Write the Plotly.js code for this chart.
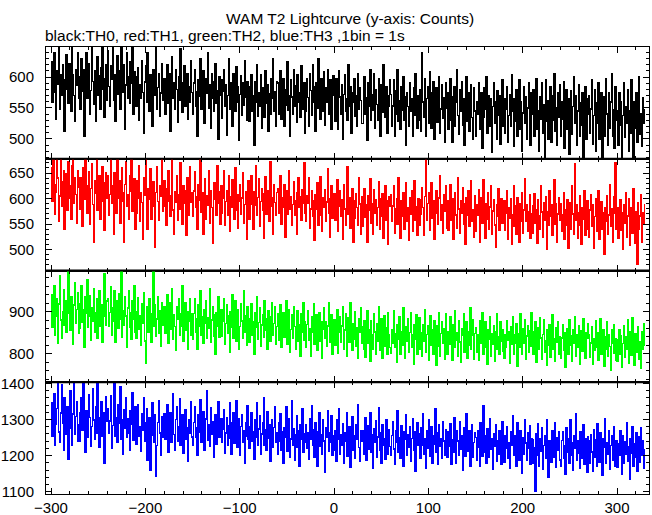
<!DOCTYPE html>
<html>
<head>
<meta charset="utf-8">
<script src="https://cdn.plot.ly/plotly-3.0.1.min.js"></script>
<style>html,body{margin:0;padding:0;background:#fff;}#chart{width:652px;height:515px;}.js-line{shape-rendering:crispEdges;}</style>
</head>
<body>
<div id="chart"></div>
<script>
// Bin start time (s) and bin width (s): 1bin = 1s
const binStart = -300;
const binWidth = 1;

// TH0 counts (black)
const th0 = [
625,560,598,640,575,532,610,588,655,548,603,571,620,595,512,580,636,600,557,622,590,545,668,603,570,528,612,586,640,565,
600,548,630,577,612,505,595,640,566,588,622,540,578,650,593,556,610,529,587,633,571,602,548,615,660,580,535,597,620,563,
642,585,553,618,596,670,562,603,528,590,635,572,610,548,655,598,575,620,515,587,640,566,600,557,625,590,663,540,608,577,
552,600,615,530,588,566,627,575,509,592,618,560,640,578,545,603,585,520,611,570,596,652,548,583,605,537,574,622,563,590,
598,540,582,620,557,605,512,574,633,566,590,548,612,580,527,601,563,645,575,543,590,618,552,571,606,532,584,560,627,575,
540,590,612,553,577,505,596,569,630,548,583,610,526,566,598,574,640,550,587,518,606,565,545,592,622,557,578,500,601,571,
595,534,577,612,552,588,506,570,630,548,591,563,520,606,575,545,617,560,585,498,572,602,538,590,555,626,567,530,593,578,
528,585,603,545,570,490,592,560,620,537,575,553,604,518,583,567,535,610,557,588,512,573,540,598,565,630,545,576,520,592,
590,540,575,610,532,563,598,520,580,555,625,547,570,505,595,568,540,612,553,586,527,603,560,575,535,618,571,548,590,510,
545,598,567,520,606,578,538,620,560,585,512,590,550,630,566,532,597,574,545,608,522,583,560,612,540,575,596,515,570,602,
580,528,597,555,515,610,568,540,588,500,572,604,545,565,530,620,553,585,510,575,560,598,537,570,520,606,548,583,562,525,
525,575,600,540,566,498,590,553,612,530,571,547,605,518,580,556,530,598,565,505,588,543,620,560,535,585,510,570,552,595,
572,520,553,595,505,578,540,612,528,562,515,585,547,600,530,568,490,575,552,520,590,545,565,505,583,538,606,550,518,570,
530,580,512,640,560,535,597,505,565,585,525,608,545,518,575,592,500,555,582,527,570,600,510,548,587,533,566,495,590,550,
575,515,552,598,530,495,568,585,520,560,612,538,508,580,545,593,522,565,490,550,600,528,575,512,557,588,535,500,583,545,
505,560,540,590,515,550,575,485,535,582,548,600,510,545,570,520,565,478,552,590,525,560,500,578,538,570,492,556,595,520,
565,510,548,585,495,538,572,520,603,545,488,565,528,580,505,552,595,515,560,480,542,585,525,568,500,550,590,535,490,575,
540,580,505,556,598,515,545,480,568,532,590,510,555,465,595,528,562,500,548,585,495,570,530,605,512,550,490,575,535,588,
505,560,532,592,485,548,580,515,565,475,540,578,508,552,600,525,570,490,545,588,505,558,522,575,468,535,585,500,565,540,
570,510,548,595,492,538,580,480,558,525,590,500,545,575,462,532,568,505,598,540,490,575,518,560,605,505,547,485,585,530,
545,490,575,522,560,470,538,590,502,552,525,580,480,545,510,595,532,455,560,518,575,495,548,600,508,540,488,566,525,548
];

// TH1 counts (red)
const th1 = [
660,595,690,628,570,612,677,640,555,605,700,585,632,655,540,618,648,578,672,600,625,560,665,690,590,640,608,552,655,622,
580,640,618,545,660,598,690,625,572,600,652,550,620,668,588,515,635,610,685,578,605,645,560,618,662,595,538,630,650,600,
645,568,608,680,590,625,530,650,615,572,695,600,635,552,595,660,612,515,628,672,585,608,560,645,615,678,575,600,638,540,
572,635,600,665,555,612,592,520,640,606,680,580,540,620,598,658,560,603,632,585,505,612,662,594,558,626,604,688,575,610,
635,585,548,620,655,595,565,606,685,578,530,614,592,645,558,608,580,670,600,550,625,590,615,528,640,602,568,662,592,612,
565,615,652,582,603,540,628,596,678,573,612,530,594,638,560,605,586,655,552,616,582,512,608,630,598,568,665,590,614,550,
625,572,600,655,548,594,615,568,645,535,604,583,636,598,560,660,578,608,542,594,628,570,601,650,552,588,614,520,606,635,
560,608,645,588,540,614,586,665,568,602,638,545,594,620,578,522,610,642,570,596,615,555,672,585,602,530,628,592,568,612,
620,572,597,645,550,601,582,628,525,597,615,570,655,580,603,548,588,632,568,596,530,612,640,582,604,558,618,590,670,572,
556,605,590,640,542,580,615,566,596,518,608,580,630,548,590,642,568,535,602,582,618,555,593,658,572,525,600,625,562,587,
610,558,591,636,535,585,615,565,598,520,627,580,548,593,662,570,602,542,587,620,515,596,562,610,582,548,640,589,530,604,
545,596,620,563,588,515,605,578,638,552,590,530,618,572,598,548,582,632,540,600,565,610,522,588,625,558,595,510,604,585,
608,555,585,625,532,580,600,550,640,578,522,596,565,612,540,588,630,555,582,518,602,570,615,536,590,635,558,584,528,600,
548,598,570,622,582,528,604,685,558,590,612,538,581,630,562,595,520,572,615,583,550,601,645,558,588,532,607,576,625,542,
596,538,581,628,558,600,520,586,612,568,542,640,580,532,596,572,622,550,590,510,602,568,615,545,586,635,555,578,525,606,
535,588,568,618,515,580,602,552,636,572,522,590,560,612,540,583,625,530,576,598,548,505,588,566,620,538,584,600,552,578,
596,538,572,615,520,582,562,600,510,568,625,545,585,530,602,570,515,590,555,612,532,578,638,556,588,535,574,608,522,570,
532,585,610,552,578,512,598,566,540,625,574,525,592,558,603,500,575,548,615,566,588,528,572,636,550,590,515,570,602,558,
590,535,568,612,520,578,548,598,502,565,592,540,625,570,530,668,558,588,522,572,605,548,510,582,560,615,528,575,595,540,
525,578,608,545,588,502,565,600,535,578,615,520,560,594,540,572,490,582,555,605,530,568,628,545,580,515,572,603,670,540,
582,522,562,598,538,572,500,588,552,612,525,566,600,508,560,582,532,620,548,512,575,472,592,540,566,608,515,572,550,590
];

// TH2 counts (green)
const th2 = [
940,862,905,960,845,889,930,825,918,985,880,836,900,952,868,925,850,895,995,910,855,935,888,822,915,968,872,905,945,848,
860,918,960,875,905,815,935,895,975,862,890,938,832,908,878,955,852,897,930,838,900,948,865,915,828,890,990,905,868,925,
930,865,898,958,845,910,876,948,828,897,925,860,942,882,995,840,903,868,935,890,815,908,950,862,898,835,925,882,962,852,
838,900,932,858,889,820,918,872,945,830,778,887,912,852,930,878,828,895,995,865,915,842,883,935,848,902,818,920,868,908,
912,848,887,940,825,880,920,858,955,835,892,865,808,912,882,930,845,895,865,960,830,886,922,855,900,810,876,930,845,895,
835,895,930,850,882,812,915,866,948,845,888,825,905,872,925,838,886,860,955,828,880,912,842,892,800,898,866,935,840,885,
905,842,876,930,822,872,915,848,890,805,900,862,940,838,880,925,830,874,905,812,865,918,878,836,948,852,890,820,912,868,
828,882,918,845,876,800,898,862,935,835,874,910,818,868,892,840,925,855,882,810,902,866,830,888,922,845,872,912,822,865,
895,832,866,915,815,862,898,840,876,925,822,868,905,805,858,892,838,912,865,812,878,902,830,870,795,896,852,920,832,875,
815,870,902,832,860,795,888,850,918,822,866,892,808,855,898,830,875,790,858,908,836,876,818,866,922,828,858,892,800,866,
880,820,858,905,802,850,888,828,866,912,812,856,895,795,848,885,828,922,858,808,872,835,900,818,862,790,882,852,910,825,
865,812,878,792,848,902,825,858,782,878,845,810,895,852,800,872,830,912,808,855,882,790,840,890,818,862,798,898,846,815,
802,858,826,902,815,848,780,870,835,888,798,852,820,908,842,790,865,830,882,805,850,898,815,845,775,868,835,892,800,856,
885,812,850,795,870,830,905,803,846,866,785,840,890,820,857,800,878,842,772,866,818,898,795,848,875,826,860,788,895,832,
800,852,822,888,838,785,868,815,902,832,850,795,878,828,780,860,845,895,805,838,875,790,853,820,908,810,843,880,788,848,
862,805,845,785,878,826,850,898,800,842,876,815,775,858,835,888,795,847,822,866,782,852,896,812,840,798,875,830,856,806,
790,845,815,878,832,852,778,863,822,888,800,845,826,872,770,848,815,895,838,800,860,825,880,788,842,866,805,855,818,898,
852,798,835,875,780,828,862,810,886,838,788,846,880,805,832,772,856,820,870,792,844,892,812,835,782,862,828,876,800,840,
790,838,868,808,850,768,828,860,800,880,820,842,782,856,826,888,795,846,815,866,775,835,855,806,884,822,790,850,836,872,
846,792,826,865,775,835,808,878,815,850,785,832,882,800,824,858,770,840,812,875,795,845,818,762,856,826,870,802,835,785,
782,833,858,800,842,768,825,866,792,840,812,880,778,828,852,796,885,818,772,848,805,836,865,788,828,765,852,812,872,818
];

// TH3 counts (blue)
const th3 = [
1345,1255,1300,1372,1228,1288,1330,1402,1265,1238,1318,1395,1290,1215,1360,1298,1258,1335,1190,1295,1380,1276,1230,1315,1402,1260,1308,1350,1240,1285,
1240,1318,1360,1270,1402,1295,1210,1325,1285,1250,1368,1306,1226,1280,1385,1298,1245,1335,1262,1402,1304,1222,1290,1348,1255,1318,1180,1284,1362,1296,
1330,1262,1296,1365,1220,1283,1318,1402,1255,1305,1236,1342,1289,1390,1246,1298,1205,1328,1275,1360,1250,1303,1262,1215,1325,1288,1375,1242,1296,1335,
1232,1298,1340,1255,1280,1212,1315,1270,1360,1240,1290,1330,1188,1268,1305,1160,1256,1345,1282,1236,1312,1142,1228,1292,1352,1262,1202,1308,1250,1286,
1315,1245,1285,1342,1210,1272,1318,1236,1292,1370,1258,1215,1300,1335,1240,1280,1358,1228,1275,1312,1206,1290,1328,1245,1278,1185,1298,1262,1350,1252,
1230,1292,1335,1250,1276,1200,1312,1265,1356,1238,1288,1322,1215,1270,1302,1380,1244,1285,1225,1332,1258,1295,1195,1276,1312,1232,1290,1348,1250,1275,
1302,1236,1273,1328,1208,1262,1305,1228,1282,1345,1248,1205,1290,1318,1235,1268,1352,1222,1266,1302,1200,1280,1312,1238,1270,1178,1292,1254,1338,1245,
1220,1280,1320,1240,1267,1190,1300,1252,1345,1228,1274,1310,1205,1260,1290,1360,1230,1272,1214,1322,1248,1285,1185,1265,1300,1222,1278,1335,1236,1262,
1205,1290,1240,1315,1215,1265,1180,1278,1250,1335,1212,1260,1302,1195,1246,1352,1230,1275,1188,1258,1310,1224,1268,1170,1285,1245,1330,1210,1260,1238,
1285,1220,1262,1190,1302,1245,1338,1228,1272,1196,1292,1252,1172,1266,1318,1225,1258,1205,1298,1240,1155,1276,1250,1325,1212,1262,1236,1310,1200,1255,
1215,1268,1185,1298,1245,1330,1205,1257,1228,1288,1178,1262,1240,1320,1198,1251,1280,1168,1236,1308,1215,1255,1192,1285,1246,1340,1222,1185,1270,1240,
1270,1205,1250,1305,1188,1245,1282,1218,1320,1210,1257,1165,1275,1238,1296,1196,1252,1332,1215,1262,1180,1285,1230,1247,1190,1300,1255,1205,1272,1225,
1200,1256,1295,1218,1176,1270,1238,1325,1210,1250,1192,1284,1235,1170,1265,1245,1312,1202,1258,1222,1280,1185,1248,1302,1214,1265,1158,1240,1290,1230,
1260,1192,1278,1230,1315,1205,1247,1165,1270,1220,1298,1198,1240,1280,1180,1255,1232,1330,1210,1262,1175,1286,1225,1248,1192,1295,1240,1202,1272,1215,
1195,1265,1226,1288,1175,1245,1210,1305,1232,1180,1270,1240,1200,1295,1218,1255,1160,1276,1230,1198,1315,1242,1212,1268,1170,1250,1285,1195,1236,1262,
1250,1188,1270,1222,1170,1290,1235,1198,1338,1210,1256,1180,1275,1228,1195,1302,1218,1248,1162,1260,1225,1285,1185,1240,1205,1270,1232,1175,1295,1212,
1182,1255,1220,1280,1192,1236,1165,1266,1228,1310,1200,1255,1215,1172,1290,1240,1186,1270,1225,1152,1250,1205,1298,1235,1188,1262,1220,1282,1176,1248,
1245,1180,1222,1102,1260,1200,1288,1172,1247,1212,1278,1162,1228,1256,1192,1300,1210,1140,1242,1218,1182,1270,1228,1196,1292,1168,1250,1215,1265,1188,
1172,1242,1266,1192,1228,1150,1276,1210,1246,1180,1298,1202,1235,1160,1255,1220,1315,1186,1240,1208,1165,1266,1225,1192,1285,1175,1248,1215,1155,1252,
1240,1178,1258,1210,1156,1272,1195,1245,1170,1288,1218,1182,1262,1200,1145,1248,1222,1302,1180,1236,1204,1268,1163,1228,1256,1188,1280,1212,1172,1242,
1168,1232,1200,1270,1212,1150,1255,1178,1238,1204,1292,1185,1226,1135,1246,1208,1280,1172,1232,1195,1262,1158,1220,1252,1182,1276,1200,1240,1166,1218
];

const seriesList = [th0, th1, th2, th3];
const seriesColors = ['#000000', '#ff0000', '#00ff00', '#0000ff'];
const yRanges = [[468, 648.5], [459, 678], [733, 997], [1094, 1403]];
const yMajor = [50, 50, 100, 100];
const yMinor = [10, 10, 20, 20];
const xRange = [-305.3, 333.9];

const titleText = 'WAM T2 Lightcurve (y-axis: Counts)';
const subtitleText = 'black:TH0, red:TH1, green:TH2, blue:TH3 ,1bin = 1s';

const traces = seriesList.map((vals, i) => ({
  type: 'scatter',
  mode: 'lines',
  x: vals.map((_, k) => binStart + k * binWidth),
  y: vals,
  xaxis: 'x' + (i + 1),
  yaxis: 'y' + (i + 1),
  line: {color: seriesColors[i], width: 1.5, shape: 'hv'},
  hoverinfo: 'skip'
}));

const fontFam = '"Liberation Sans", Arial, Helvetica, sans-serif';
const baseAxis = {
  showline: true, linecolor: '#000', linewidth: 1, mirror: 'allticks',
  ticks: 'inside', ticklen: 6, tickwidth: 1, tickcolor: '#000',
  showgrid: false, zeroline: false,
  tickfont: {family: fontFam, size: 15, color: '#000'}
};

const layout = {
  width: 652, height: 515,
  margin: {l: 46, r: 3, t: 47, b: 21, pad: 0},
  paper_bgcolor: '#fff', plot_bgcolor: '#fff',
  showlegend: false,
  font: {family: fontFam, size: 15, color: '#000'},
  annotations: [
    {text: titleText, xref: 'paper', yref: 'paper', x: 0.5, y: 1, xshift: 2, yshift: 29,
     xanchor: 'center', yanchor: 'middle', showarrow: false, font: {family: fontFam, size: 15.5, color: '#000'}},
    {text: subtitleText, xref: 'paper', yref: 'paper', x: 0, y: 1, xshift: -3, yshift: 12,
     xanchor: 'left', yanchor: 'middle', showarrow: false, font: {family: fontFam, size: 15.5, color: '#000'}}
  ],
  shapes: [0.25, 0.5, 0.75].map(yv => ({
    type: 'line', xref: 'paper', yref: 'paper', x0: 0, x1: 1, y0: yv, y1: yv,
    line: {color: '#000', width: 2}, layer: 'above'
  }))
};

for (let i = 0; i < 4; i++) {
  const n = i + 1;
  const top = 1 - i * 0.25, bot = 1 - (i + 1) * 0.25;
  layout['xaxis' + n] = Object.assign({}, baseAxis, {
    anchor: 'y' + n, domain: [0, 1], range: xRange, dtick: 100, tick0: 0,
    showticklabels: n === 4, ticklabelstandoff: 0,
    minor: {dtick: 20, tick0: 0, ticks: 'inside', ticklen: 3, tickcolor: '#000', showgrid: false}
  });
  layout['yaxis' + n] = Object.assign({}, baseAxis, {
    anchor: 'x' + n, domain: [Math.max(bot, 0), Math.min(top, 1)], range: yRanges[i],
    dtick: yMajor[i], tick0: 0, ticklabelstandoff: 8,
    minor: {dtick: yMinor[i], tick0: 0, ticks: 'inside', ticklen: 3, tickcolor: '#000', showgrid: false}
  });
}

Plotly.newPlot('chart', traces, layout, {displayModeBar: false, staticPlot: true});
</script>
</body>
</html>
